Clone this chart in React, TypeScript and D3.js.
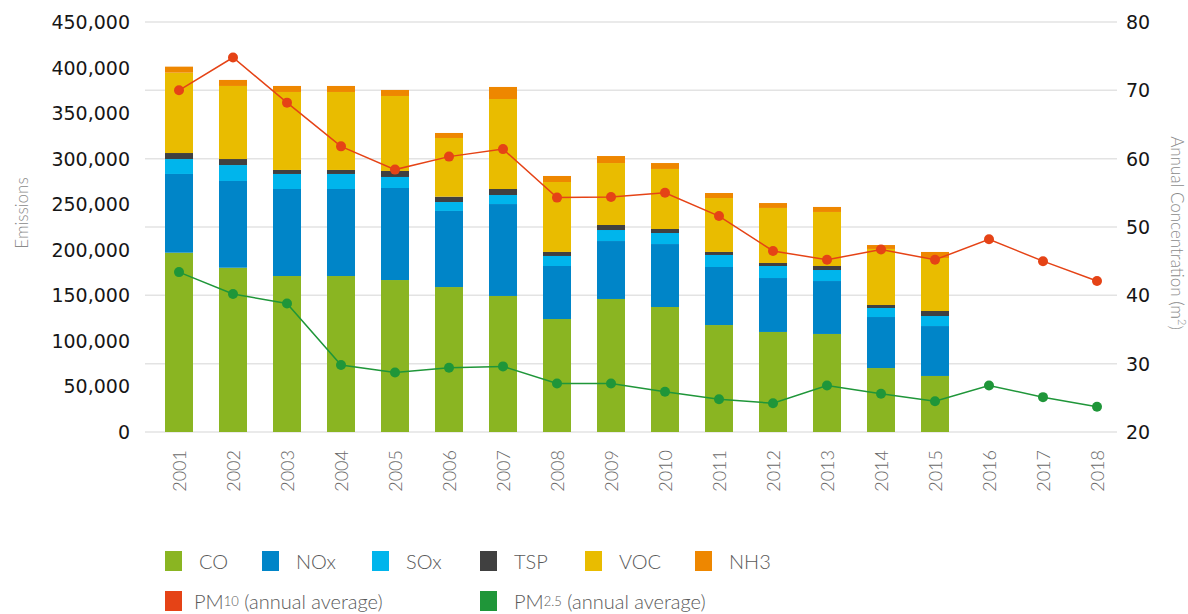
import { useMemo } from 'react';
import * as d3 from 'd3';

const YEARS = ['2001','2002','2003','2004','2005','2006','2007','2008','2009','2010','2011','2012','2013','2014','2015','2016','2017','2018'];
const BAR_YEARS = YEARS.slice(0, 15);

// emissions (tonnes), 2001-2015
const CO = [196800, 180300, 171200, 171200, 166800, 159100, 149300, 124000, 146000, 137200, 117400, 109800, 107600, 70200, 61500];
const NOX = [86400, 95200, 95500, 95500, 101000, 83500, 100900, 58200, 63600, 69100, 63700, 59200, 58100, 56000, 54800];
const SOX = [16400, 17500, 16500, 16500, 12100, 9800, 9900, 11000, 12100, 12100, 13200, 13200, 12100, 9900, 11000];
const TSP = [6600, 6600, 4400, 4400, 6600, 5900, 6600, 4400, 5500, 4400, 3300, 3300, 4400, 3300, 5500];
const VOC = [88200, 80200, 85600, 85600, 82300, 64400, 98800, 76800, 68000, 65900, 59200, 60400, 59300, 61500, 58200];
const NH3 = [6600, 6600, 6600, 6600, 6600, 5500, 13200, 6600, 7700, 6500, 5500, 5400, 5500, 4300, 6600];

// annual concentration, 2001-2018
const PM10 = [70.0, 74.8, 68.2, 61.8, 58.4, 60.3, 61.4, 54.3, 54.4, 55.0, 51.6, 46.5, 45.2, 46.7, 45.2, 48.2, 45.0, 42.1];
const PM25 = [43.4, 40.2, 38.8, 29.8, 28.7, 29.4, 29.6, 27.1, 27.1, 25.9, 24.8, 24.2, 26.8, 25.6, 24.5, 26.8, 25.1, 23.7];

const LEFT_TICKS = [0, 50000, 100000, 150000, 200000, 250000, 300000, 350000, 400000, 450000];
const RIGHT_TICKS = [20, 30, 40, 50, 60, 70, 80];

const SERIES = [
  { key: 'CO', label: 'CO', values: CO, color: '#8ab522' },
  { key: 'NOx', label: 'NOx', values: NOX, color: '#0085c8' },
  { key: 'SOx', label: 'SOx', values: SOX, color: '#00b5ec' },
  { key: 'TSP', label: 'TSP', values: TSP, color: '#404040' },
  { key: 'VOC', label: 'VOC', values: VOC, color: '#e9bc00' },
  { key: 'NH3', label: 'NH3', values: NH3, color: '#ee8700' },
];

const PM10_COLOR = '#e54316';
const PM25_COLOR = '#1f9639';

const LABEL_FONT = 'Lato, "Open Sans", sans-serif';
const TICK_FONT = '"DejaVu Sans", sans-serif';

export default function App() {
  const width = 1188;
  const height = 614;

  const x = d3.scaleBand<string>().domain(YEARS).range([152, 1124]).padding(0);
  const yLeft = d3.scaleLinear().domain([0, 450000]).range([432, 22]);
  const yRight = d3.scaleLinear().domain([20, 80]).range([432, 22]);
  const barW = 28;
  const fmt = d3.format(',');

  const stacked = useMemo(() => {
    const rows = BAR_YEARS.map((year, i) => {
      const r: Record<string, any> = { year };
      SERIES.forEach(s => { r[s.key] = s.values[i]; });
      return r;
    });
    return d3.stack<Record<string, any>>().keys(SERIES.map(s => s.key))(rows);
  }, []);

  const line = (vals: number[]) =>
    d3.line<number>()
      .x((_, i) => x(YEARS[i])! + x.bandwidth() / 2)
      .y(v => yRight(v))(vals) || '';

  const legendRow1 = [165, 262, 372, 480, 585, 695];

  return (
    <svg width={width} height={height} style={{ position: 'absolute', left: 0, top: 0, background: '#fff' }}>
      {/* gridlines follow the right axis */}
      {RIGHT_TICKS.map(t => (
        <line key={t} x1={145} x2={1117} y1={yRight(t)} y2={yRight(t)} stroke="#e3e3e3" strokeWidth={1.5} />
      ))}

      {LEFT_TICKS.map(t => (
        <text key={t} x={130} y={yLeft(t)} textAnchor="end" dominantBaseline="central"
          fontFamily={TICK_FONT} fontSize={19} fill="#161616">{fmt(t)}</text>
      ))}
      {RIGHT_TICKS.map(t => (
        <text key={t} x={1126} y={yRight(t)} textAnchor="start" dominantBaseline="central"
          fontFamily={TICK_FONT} fontSize={19} fill="#161616">{t}</text>
      ))}

      <text transform="translate(21,213) rotate(-90)" textAnchor="middle" dominantBaseline="central"
        fontFamily={LABEL_FONT} fontWeight={300} fontSize={17} fill="#8a8a8a">Emissions</text>
      <text transform="translate(1177,233) rotate(90)" textAnchor="middle" dominantBaseline="central"
        fontFamily={LABEL_FONT} fontWeight={300} fontSize={17} fill="#8a8a8a">
        Annual Concentration (m<tspan fontSize={11} dy={-6}>2</tspan><tspan dy={6}>)</tspan>
      </text>

      {YEARS.map(yr => (
        <text key={yr} transform={`translate(${x(yr)! + x.bandwidth() / 2},450) rotate(-90)`}
          textAnchor="end" dominantBaseline="central"
          fontFamily={LABEL_FONT} fontWeight={300} fontSize={18} fill="#6a6a6a">{yr}</text>
      ))}

      {stacked.map((layer, li) => (
        <g key={layer.key} fill={SERIES[li].color}>
          {layer.map((d, i) => (
            <rect key={i} x={x(BAR_YEARS[i])! + (x.bandwidth() - barW) / 2} width={barW}
              y={yLeft(d[1])} height={yLeft(d[0]) - yLeft(d[1])} />
          ))}
        </g>
      ))}

      <path d={line(PM10)} fill="none" stroke={PM10_COLOR} strokeWidth={1.5} />
      {PM10.map((v, i) => (
        <circle key={i} cx={x(YEARS[i])! + x.bandwidth() / 2} cy={yRight(v)} r={5} fill={PM10_COLOR} />
      ))}
      <path d={line(PM25)} fill="none" stroke={PM25_COLOR} strokeWidth={1.5} />
      {PM25.map((v, i) => (
        <circle key={i} cx={x(YEARS[i])! + x.bandwidth() / 2} cy={yRight(v)} r={5} fill={PM25_COLOR} />
      ))}

      {/* legend */}
      {SERIES.map((s, i) => (
        <g key={s.key} transform={`translate(${legendRow1[i]},551)`}>
          <rect width={17} height={20} fill={s.color} />
          <text x={34} y={10} dominantBaseline="central" fontFamily={LABEL_FONT} fontWeight={300}
            fontSize={20} fill="#5a5a5a">{s.label}</text>
        </g>
      ))}
      <g transform="translate(165,591)">
        <rect width={17} height={20} fill={PM10_COLOR} />
        <text x={29} y={10} dominantBaseline="central" fontFamily={LABEL_FONT} fontWeight={300} fontSize={20} fill="#5a5a5a">
          PM<tspan fontSize={13}>10</tspan> (annual average)
        </text>
      </g>
      <g transform="translate(480,591)">
        <rect width={17} height={20} fill={PM25_COLOR} />
        <text x={34} y={10} dominantBaseline="central" fontFamily={LABEL_FONT} fontWeight={300} fontSize={20} fill="#5a5a5a">
          PM<tspan fontSize={13}>2.5</tspan> (annual average)
        </text>
      </g>
    </svg>
  );
}
